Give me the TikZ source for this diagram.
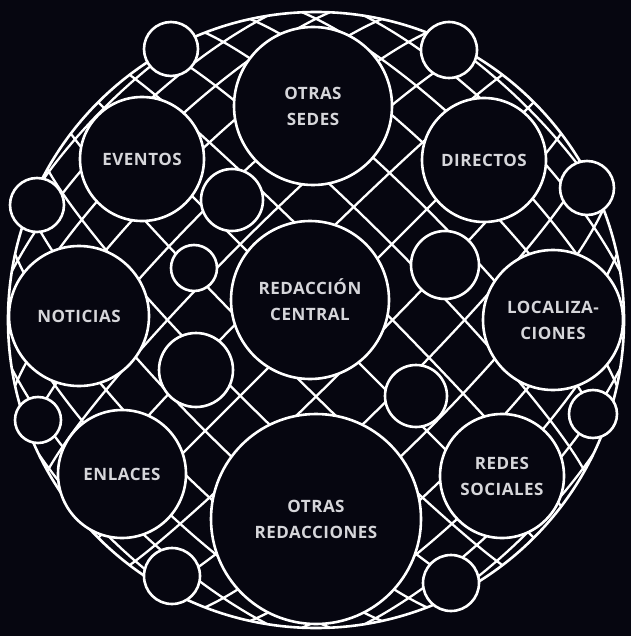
\documentclass[tikz,border=0pt]{standalone}
\usepackage{fontspec}
\setmainfont{Open Sans}
\usetikzlibrary{positioning}
\definecolor{bgdark}{RGB}{6,6,16}
\definecolor{labelgray}{RGB}{214,214,218}
\tikzstyle{bubble} = [circle, draw=white, fill=bgdark, line width=2.6pt, inner sep=0pt, align=center, text=labelgray, font=\fontsize{17}{26}\selectfont\bfseries\addfontfeatures{LetterSpace=3}]
\tikzstyle{blank} = [circle, draw=white, fill=bgdark, line width=2.6pt, inner sep=0pt]
\tikzstyle{gridline} = [white, line width=2.3pt]

\begin{document}
\begin{tikzpicture}[x=1pt, y=-1pt,
  declare function={rh(\p,\q)=max(sqrt(\p*\p+\q*\q),0.0005);
                    fq(\p,\q)=(0.45*rh(\p,\q)+0.55*sin(90*rh(\p,\q)))/rh(\p,\q);}]
    \fill[bgdark] (0,0) rectangle (631,636);
    \useasboundingbox (0,0) rectangle (631,636);

    % Grid, bent like a sphere
    \foreach \k in {-7,...,7}{
      \pgfmathsetmacro{\dd}{\k*0.135}
      \pgfmathsetmacro{\ll}{sqrt(1-(\dd)*(\dd))}
      \draw[gridline] plot[domain=-\ll:\ll, samples=90, variable=\s, smooth]
        ({316+308*fq(\dd,\s)*((\dd)+(\s))/1.41421}, {320+308*fq(\dd,\s)*((\dd)-(\s))/1.41421});
      \draw[gridline] plot[domain=-\ll:\ll, samples=90, variable=\s, smooth]
        ({316+308*fq(\dd,\s)*((\dd)+(\s))/1.41421}, {320-308*fq(\dd,\s)*((\dd)-(\s))/1.41421});
    }
    \node (rim) [circle, draw=white, line width=2.6pt, minimum size=616pt] at (316,320) {};

    % Nodes
    \node (sedes) [bubble, minimum size=158pt] at (313,106) {OTRAS\\SEDES};
    \node (eventos) [bubble, minimum size=124pt] at (142,159) {EVENTOS};
    \node (directos) [bubble, minimum size=124pt] at (484,160) {DIRECTOS};
    \node (noticias) [bubble, minimum size=140pt] at (79,316) {NOTICIAS};
    \node (central) [bubble, minimum size=158pt] at (310,300) {REDACCIÓN\\CENTRAL};
    \node (local) [bubble, minimum size=140pt] at (553,320) {LOCALIZA-\\CIONES};
    \node (enlaces) [bubble, minimum size=128pt] at (122,474) {ENLACES};
    \node (redacciones) [bubble, minimum size=210pt] at (316,519) {OTRAS\\REDACCIONES};
    \node (redes) [bubble, minimum size=124pt] at (502,476) {REDES\\SOCIALES};

    % Empty circles
    \node (topleft) [blank, minimum size=54pt] at (171,49) {};
    \node (topright) [blank, minimum size=56pt] at (449,50) {};
    \node (leftup) [blank, minimum size=54pt] at (37,205) {};
    \node (rightup) [blank, minimum size=54pt] at (587,188) {};
    \node (midleft) [blank, minimum size=62pt] at (232,200) {};
    \node (tiny) [blank, minimum size=46pt] at (194,268) {};
    \node (midright) [blank, minimum size=68pt] at (445,265) {};
    \node (lowleft) [blank, minimum size=74pt] at (196,370) {};
    \node (leftdown) [blank, minimum size=46pt] at (38,420) {};
    \node (botleft) [blank, minimum size=56pt] at (172,576) {};
    \node (lowright) [blank, minimum size=62pt] at (416,396) {};
    \node (rightdown) [blank, minimum size=48pt] at (593,414) {};
    \node (botright) [blank, minimum size=56pt] at (451,583) {};
\end{tikzpicture}
\end{document}
